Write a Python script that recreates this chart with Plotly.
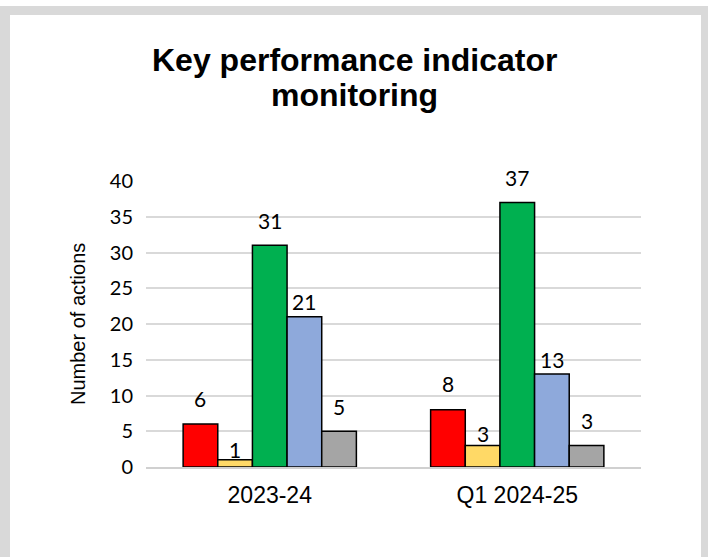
import plotly.graph_objects as go

categories = ["2023-24", "Q1 2024-25"]
series_names = ["Red", "Amber", "Green", "Blue", "Grey"]
red_values = [6, 8]
amber_values = [1, 3]
green_values = [31, 37]
blue_values = [21, 13]
grey_values = [5, 3]
y_tick_values = [0, 5, 10, 15, 20, 25, 30, 35, 40]
title_lines = ["Key performance indicator", "monitoring"]

all_values = [red_values, amber_values, green_values, blue_values, grey_values]
colors = ["#FF0000", "#FFD966", "#00B050", "#8EA9DB", "#A5A5A5"]
# vertical offset (px) of each data label above its bar, per series per category
label_offsets = [[26, 26], [10, 12], [25, 25], [15, 15], [25, 25]]

W, H = 708, 557
ML, MR, MT, MB = 146, 67, 181, 90
plot_w = W - ML - MR
plot_h = H - MT - MB
bargap = 0.30
bar_px = plot_w / len(categories) * (1 - bargap) / len(series_names)


def px_x(p):
    return (p - ML) / plot_w


def px_y(p):
    return (H - MB - p) / plot_h


fig = go.Figure()
for name, vals, col in zip(series_names, all_values, colors):
    fig.add_trace(go.Bar(
        x=categories, y=vals, name=name,
        marker=dict(color=col, line=dict(color="black", width=1.5)),
        showlegend=False,
    ))

annotations = []
n = len(series_names)
for i, (vals, offs) in enumerate(zip(all_values, label_offsets)):
    for cat, v, off in zip(categories, vals, offs):
        annotations.append(dict(
            x=cat, y=v, xref="x", yref="y", text=str(v), showarrow=False,
            xshift=(i - (n - 1) / 2) * bar_px, yshift=off,
            yanchor="middle", xanchor="center",
            font=dict(family="Lato", size=21, color="#000000"),
        ))

# y-axis title
annotations.append(dict(
    x=px_x(78), y=0.5, xref="paper", yref="paper", text="Number of actions",
    showarrow=False, textangle=-90, xanchor="center", yanchor="middle",
    font=dict(family="Liberation Sans, Arial", size=20, color="#000000"),
))

# chart title (two centred lines)
for line, cy in zip(title_lines, [60, 95]):
    annotations.append(dict(
        x=px_x(W / 2), y=px_y(cy), xref="paper", yref="paper", text=f"<b>{line}</b>",
        showarrow=False, xanchor="center", yanchor="middle",
        font=dict(family="Liberation Sans, Arial", size=32, color="#000000"),
    ))

frame_col = "#D9D9D9"
shapes = [
    dict(type="rect", xref="paper", yref="paper", x0=px_x(0), x1=px_x(W),
         y0=px_y(15), y1=px_y(6), fillcolor=frame_col, line=dict(width=0), layer="below"),
    dict(type="rect", xref="paper", yref="paper", x0=px_x(0), x1=px_x(10),
         y0=px_y(H), y1=px_y(6), fillcolor=frame_col, line=dict(width=0), layer="below"),
    dict(type="rect", xref="paper", yref="paper", x0=px_x(701), x1=px_x(W),
         y0=px_y(H), y1=px_y(6), fillcolor=frame_col, line=dict(width=0), layer="below"),
]

fig.update_layout(
    width=W, height=H,
    margin=dict(l=ML, r=MR, t=MT, b=MB, pad=0),
    paper_bgcolor="white", plot_bgcolor="white",
    barmode="group", bargap=bargap, bargroupgap=0,
    xaxis=dict(
        showgrid=False, showline=True, linecolor="#D0D0D0", linewidth=2,
        ticks="", ticklabelstandoff=6,
        tickfont=dict(family="Liberation Sans, Arial", size=23, color="#000000"),
    ),
    yaxis=dict(
        range=[0, 40], tickvals=y_tick_values, showgrid=True,
        gridcolor="#D9D9D9", gridwidth=2, zeroline=False, showline=False,
        ticks="", ticklabelstandoff=12,
        tickfont=dict(family="Lato", size=20, color="#000000"),
    ),
    annotations=annotations,
    shapes=shapes,
)

fig.write_html("out.html", config={"displayModeBar": False},
               post_script="document.body.style.margin='0';")
